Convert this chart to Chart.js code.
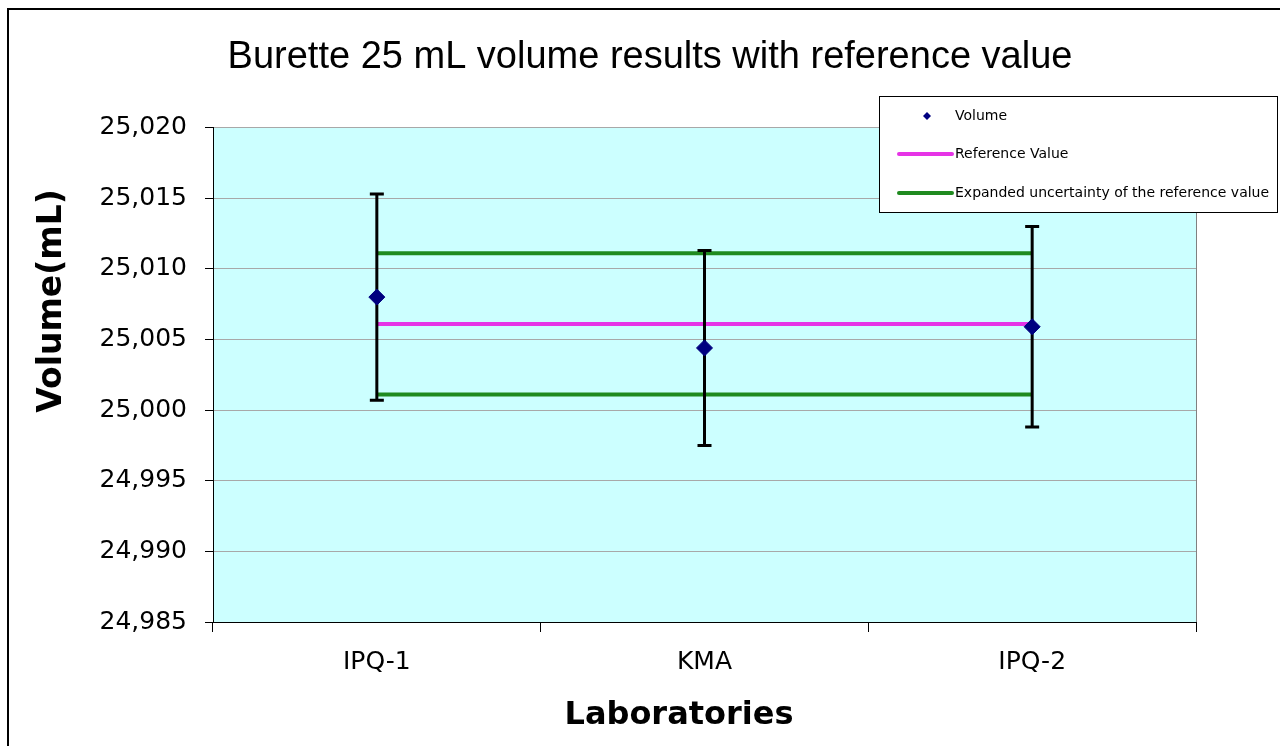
<!DOCTYPE html>
<html><head><meta charset="utf-8">
<script src="https://cdn.jsdelivr.net/npm/chart.js@4.4.1/dist/chart.umd.min.js"></script>
<style>html,body{margin:0;padding:0;background:#fff;overflow:hidden;} #wrap{width:1280px;height:746px;position:relative;}</style>
</head><body><div id="wrap"><canvas id="c" width="1280" height="746"></canvas></div>
<script>
// ---- data ----
const labs = ['IPQ-1', 'KMA', 'IPQ-2'];
const volume = [25.0080, 25.0044, 25.0059];
const volumeU = [0.0073, 0.0069, 0.0071];
const refValue = 25.0061;
const refU = 0.0050;
const yMin = 24.985, yMax = 25.020, yStep = 0.005;
const seriesNames = ['Volume', 'Reference Value', 'Expanded uncertainty of the reference value'];
const xTitle = 'Laboratories';
const yTitle = 'Volume(mL)';

const refLine = labs.map(() => refValue);
const upperLine = labs.map(() => refValue + refU);
const lowerLine = labs.map(() => refValue - refU);

const bgPlugin = {
  id: 'bg',
  beforeDraw(chart) {
    const {ctx, chartArea: a} = chart;
    ctx.save();
    ctx.fillStyle = '#ffffff';
    ctx.fillRect(0, 0, chart.width, chart.height);
    ctx.fillStyle = '#ccffff';
    ctx.fillRect(a.left, a.top, a.right - a.left, a.bottom - a.top);
    ctx.restore();
  },
  afterDraw(chart) {
    const {ctx, chartArea: a} = chart;
    ctx.save();
    ctx.strokeStyle = '#808080';
    ctx.lineWidth = 1;
    ctx.beginPath();
    ctx.moveTo(Math.round(a.right) + 0.5, a.top);
    ctx.lineTo(Math.round(a.right) + 0.5, a.bottom);
    ctx.stroke();
    ctx.strokeStyle = '#000';
    ctx.lineWidth = 2;
    ctx.beginPath();
    ctx.moveTo(8, chart.height + 5);
    ctx.lineTo(8, 9);
    ctx.lineTo(chart.width + 5, 9);
    ctx.stroke();
    // axis titles
    ctx.fillStyle = '#000';
    ctx.font = 'bold 32px "DejaVu Sans"';
    ctx.textAlign = 'center';
    ctx.textBaseline = 'middle';
    ctx.fillText(xTitle, 679, 716);
    ctx.save();
    ctx.translate(52, 301);
    ctx.rotate(-Math.PI / 2);
    ctx.font = 'bold 33px "DejaVu Sans"';
    ctx.fillText(yTitle, 0, 0);
    ctx.restore();
    ctx.restore();
  }
};

const errorBars = {
  id: 'errorBars',
  beforeDatasetDraw(chart, args) {
    if (args.index !== 0) return;
    const {ctx} = chart;
    const xs = chart.scales.x, ys = chart.scales.y;
    ctx.save();
    ctx.strokeStyle = '#000';
    ctx.lineWidth = 3;
    volume.forEach((v, i) => {
      const x = xs.getPixelForValue(i);
      const yt = ys.getPixelForValue(v + volumeU[i]);
      const yb = ys.getPixelForValue(v - volumeU[i]);
      ctx.beginPath();
      ctx.moveTo(x, yt); ctx.lineTo(x, yb);
      ctx.moveTo(x - 7, yt); ctx.lineTo(x + 7, yt);
      ctx.moveTo(x - 7, yb); ctx.lineTo(x + 7, yb);
      ctx.stroke();
    });
    ctx.restore();
  }
};

const boxLegend = {
  id: 'boxLegend',
  afterDraw(chart) {
    const {ctx} = chart;
    const bx = 879.5, by = 96.5, bw = 398, bh = 116;
    ctx.save();
    ctx.fillStyle = '#fff';
    ctx.fillRect(bx, by, bw, bh);
    ctx.strokeStyle = '#000';
    ctx.lineWidth = 1;
    ctx.strokeRect(bx, by, bw, bh);
    ctx.font = '14px "DejaVu Sans"';
    ctx.textBaseline = 'middle';
    ctx.textAlign = 'left';
    const rows = [116, 154, 193];
    const items = chart.data.datasets.filter(d => !d.legendHide);
    items.forEach((d, k) => {
      const y = rows[k];
      if (d.showLine === false) {
        ctx.fillStyle = d.pointBackgroundColor;
        ctx.beginPath();
        ctx.moveTo(927, y - 4); ctx.lineTo(931, y); ctx.lineTo(927, y + 4); ctx.lineTo(923, y);
        ctx.closePath(); ctx.fill();
      } else {
        ctx.strokeStyle = d.borderColor;
        ctx.lineWidth = 4;
        ctx.lineCap = 'round';
        ctx.beginPath();
        ctx.moveTo(899, y); ctx.lineTo(952, y);
        ctx.stroke();
      }
      ctx.fillStyle = '#000';
      ctx.fillText(d.label, 955, y);
    });
    ctx.restore();
  }
};

new Chart(document.getElementById('c'), {
  type: 'line',
  data: {
    labels: labs,
    datasets: [
      {label: seriesNames[0], data: volume, showLine: false, pointStyle: 'rectRot', pointRadius: 8, pointHoverRadius: 8,
       pointBackgroundColor: '#000080', pointBorderColor: '#000080', borderColor: '#000080', backgroundColor: '#000080'},
      {label: seriesNames[1], data: refLine, borderColor: '#e633e6', borderWidth: 4, pointRadius: 0, fill: false},
      {label: seriesNames[2], data: upperLine, borderColor: '#1f8a1f', borderWidth: 4, pointRadius: 0, fill: false},
      {label: seriesNames[2], data: lowerLine, borderColor: '#1f8a1f', borderWidth: 4, pointRadius: 0, fill: false, legendHide: true}
    ]
  },
  options: {
    responsive: false,
    animation: false,
    devicePixelRatio: 1,
    layout: {padding: {left: 20, right: 0, top: 0, bottom: 0}},
    plugins: {
      legend: {display: false},
      tooltip: {enabled: false},
      title: {
        display: true,
        text: 'Burette 25 mL volume results with reference value',
        color: '#000',
        font: {family: '"Liberation Sans", Arial, sans-serif', size: 38, weight: 'normal'},
        padding: {top: 35, bottom: 47}
      }
    },
    scales: {
      x: {
        type: 'category',
        offset: true,
        grid: {display: true, drawOnChartArea: false, offset: true, tickLength: 10, color: '#000', lineWidth: 1},
        border: {display: true, color: '#000', width: 1},
        ticks: {color: '#000', font: {family: '"DejaVu Sans"', size: 25}, padding: 15},
        afterFit(s) { s.height = 124; }
      },
      y: {
        type: 'linear',
        position: 'left',
        min: yMin, max: yMax,
        grid: {color: '#a8a8a8', tickColor: '#000', tickLength: 8, lineWidth: 1},
        border: {display: true, color: '#000', width: 1},
        ticks: {stepSize: yStep, color: '#000', font: {family: '"DejaVu Sans"', size: 25}, padding: 18,
                callback: v => Number(v).toFixed(3).replace('.', ',')},
        afterFit(s) { s.width = 193; }
      },
      y2: {
        type: 'linear',
        position: 'right',
        display: true,
        grid: {display: false},
        border: {display: false},
        ticks: {display: false},
        afterFit(s) { s.width = 84; }
      }
    }
  },
  plugins: [bgPlugin, errorBars, boxLegend]
});
</script>
</body></html>
